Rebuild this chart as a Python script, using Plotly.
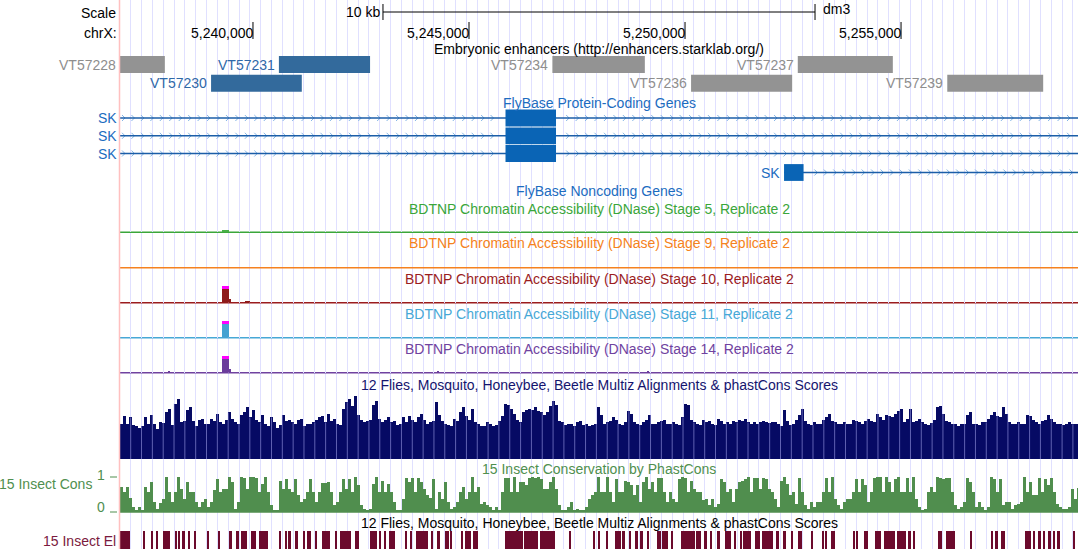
import plotly.graph_objects as go

# ------------------------------------------------------------------ data
chrom = "chrX"
assembly = "dm3"
win_start = 5236922
win_end = 5259096
scale_bar_kb = 10
ruler_ticks = [5240000, 5245000, 5250000, 5255000]
ruler_labels = ["5,240,000", "5,245,000", "5,250,000", "5,255,000"]

enh_track_title = "Embryonic enhancers (http://enhancers.starklab.org/)"
enh_names = ["VT57228", "VT57230", "VT57231", "VT57234", "VT57236", "VT57237", "VT57239"]
enh_starts = [5235900, 5239030, 5240600, 5246930, 5250140, 5252610, 5256070]
enh_ends = [5237960, 5241130, 5242710, 5249070, 5252480, 5254810, 5258290]
enh_rows = [1, 2, 1, 1, 2, 1, 2]
enh_class = ["other", "active", "active", "other", "other", "other", "other"]

gene_track_title = "FlyBase Protein-Coding Genes"
noncoding_title = "FlyBase Noncoding Genes"
gene_names = ["SK", "SK", "SK", "SK"]
gene_tx_starts = [5226000, 5226000, 5226000, 5252292]
gene_tx_ends = [5266000, 5266000, 5266000, 5266000]
gene_exon_starts = [5245845, 5245845, 5245845, 5252292]
gene_exon_ends = [5247014, 5247014, 5247014, 5252744]

dnase_stages = ["5", "9", "10", "11", "14"]
dnase_peak_starts = [[5239276], [], [5239276, 5239452, 5239815], [5239276],
                     [5238033, 5239276, 5239452, 5244260, 5249120]]
dnase_peak_ends = [[5239452], [], [5239452, 5239498, 5239931], [5239452],
                   [5238080, 5239452, 5239498, 5244310, 5249170]]
dnase_peak_values = [[0.17], [], [1.45, 0.2, 0.08], [1.45], [0.05, 1.45, 0.25, 0.05, 0.05]]
dnase_view_max = 1.0

multiz_title = "12 Flies, Mosquito, Honeybee, Beetle Multiz Alignments & phastCons Scores"
phast_title = "15 Insect Conservation by PhastCons"
cons_bin_start = 5236922
cons_bin_size = 69.44
multiz_scores = [
    56, 68, 55, 66, 54, 52, 50, 53, 66, 55, 70, 56, 47, 58, 57, 75, 80, 54, 88, 96,
    58, 60, 78, 82, 60, 53, 62, 64, 56, 55, 64, 60, 72, 58, 56, 62, 74, 64, 58, 56,
    70, 74, 83, 66, 78, 62, 58, 70, 56, 52, 66, 58, 50, 54, 70, 60, 62, 58, 55, 62,
    64, 53, 55, 56, 58, 62, 66, 68, 58, 72, 60, 64, 56, 54, 80, 90, 96, 84, 100, 70,
    62, 58, 60, 62, 85, 92, 64, 58, 62, 66, 58, 60, 54, 56, 66, 58, 68, 62, 58, 66,
    72, 62, 55, 58, 60, 90, 70,
    60, 56, 54, 52, 64, 60, 74, 82, 68, 62, 80, 58, 55, 53, 52, 58, 55, 52, 54, 60,
    68, 88, 85, 80, 72, 62, 58, 74, 77, 80, 78, 82, 76, 74, 70, 74, 84, 92, 86, 60,
    58, 54, 56, 55, 52, 58, 60, 54, 56, 52, 54, 56, 82, 70, 55, 58, 60, 66, 62, 56,
    54, 58, 76, 72, 58, 56, 54, 58, 62, 70, 56, 55, 58, 60, 62, 56, 55, 58, 56, 54,
    66, 88, 86, 62, 58, 56, 54, 62, 58, 60, 56, 54, 64, 60, 55, 58, 56, 60, 58, 62,
    60, 64, 58, 55, 58, 56,
    58, 60, 58, 57, 59, 58, 56, 53, 77, 60, 54, 56, 62, 70, 80, 60, 56, 54, 58, 56,
    55, 62, 66, 72, 60, 58, 56, 55, 58, 56, 55, 62, 60, 58, 56, 60, 64, 60, 58, 72,
    66, 62, 70, 68, 66, 72, 76, 80, 58, 64, 80, 58, 60, 64, 58, 56, 54, 57, 62, 82,
    84, 72, 60, 58, 56, 55, 53, 55, 56, 70, 74, 56, 55, 54, 58, 58, 64, 70, 74, 68,
    66, 82, 72, 58, 55, 56, 58, 55, 56, 70, 68, 62, 58, 56, 60, 62, 70, 64, 58, 56,
    55, 54, 56, 58, 55, 56, 55,
]
phast_scores = [
    71, 57, 71, 40, 14, 5, 14, 5, 71, 57, 86, 29, 10, 25, 38, 100, 57, 29, 57, 100,
    67, 38, 86, 57, 57, 29, 14, 29, 38, 14, 29, 62, 93, 57, 67, 67, 100, 86, 10, 29,
    100, 97, 67, 100, 100, 97, 57, 81, 100, 57, 20, 5, 5, 90, 67, 95, 67, 57, 93, 48,
    29, 38, 57, 93, 57, 29, 57, 84, 84, 86, 57, 19, 29, 57, 93, 67, 95, 57, 100, 76,
    19, 8, 5, 10, 81, 100, 57, 90, 57, 81, 57, 29, 5, 5, 38, 97, 86, 97, 57, 97,
    86, 67, 48, 40, 93, 10, 57,
    38, 86, 29, 10, 14, 30, 57, 71, 38, 57, 100, 57, 71, 24, 30, 20, 14, 5, 14, 5,
    57, 97, 97, 57, 100, 57, 86, 86, 76, 97, 100, 97, 100, 95, 67, 67, 86, 100, 67, 19,
    5, 5, 14, 29, 5, 10, 5, 5, 14, 38, 48, 57, 100, 57, 57, 100, 57, 29, 93, 57,
    57, 90, 86, 76, 48, 76, 29, 86, 100, 67, 86, 57, 97, 97, 57, 29, 57, 38, 29, 95,
    100, 97, 57, 90, 67, 57, 57, 33, 38, 19, 38, 14, 24, 95, 86, 57, 67, 29, 67, 86,
    90, 95, 100, 57, 97, 97,
    67, 97, 93, 67, 57, 38, 14, 90, 100, 81, 48, 57, 24, 97, 57, 19, 10, 29, 14, 29,
    29, 57, 97, 57, 100, 38, 19, 10, 29, 38, 38, 57, 93, 57, 95, 76, 29, 57, 97, 100,
    100, 57, 100, 86, 57, 95, 100, 57, 57, 97, 57, 100, 38, 14, 5, 10, 57, 71, 57, 100,
    97, 93, 97, 97, 57, 19, 10, 14, 29, 97, 86, 57, 14, 29, 14, 5, 14, 100, 95, 57,
    93, 19, 29, 29, 10, 19, 24, 29, 100, 57, 86, 48, 48, 97, 57, 93, 76, 97, 57, 24,
    14, 10, 10, 14, 67, 38, 70,
]
element_starts = [
    5236938, 5236991, 5237044, 5237107, 5237477, 5237646, 5237778, 5237924, 5238195, 5238281,
    5238380, 5238512, 5238635, 5238943, 5239190, 5239438, 5239623, 5239716, 5239947, 5240146,
    5240609, 5240734, 5240827, 5240966, 5241158, 5241244, 5241429, 5241598, 5241906, 5242021,
    5242355, 5242716, 5242933, 5243049, 5243142, 5243526, 5243635, 5243781, 5244128, 5244267,
    5244452, 5244554, 5244808, 5244901, 5245086, 5245827, 5246274, 5246637, 5247331, 5247871,
    5247987, 5248179, 5248373, 5248542, 5248720, 5248836, 5248952, 5249128, 5249359, 5249468,
    5249683, 5249901, 5250262, 5250457, 5250579, 5250748, 5250920, 5251151, 5251267, 5251343,
    5251614, 5251783, 5252114, 5252269, 5252461, 5252616, 5252924, 5253172, 5253248, 5253373,
    5253889, 5253966, 5254144, 5254406, 5254607, 5254915, 5255162, 5255278, 5255857, 5256049,
    5256591, 5257076, 5257183, 5257308, 5257864, 5258056, 5258172, 5258287, 5258403, 5258519,
    5258619, 5258982,
]
element_ends = [
    5236984, 5237031, 5237084, 5237146, 5237507, 5237679, 5237808, 5238086, 5238241, 5238318,
    5238419, 5238542, 5238665, 5238982, 5239244, 5239514, 5239669, 5239869, 5240070, 5240348,
    5240655, 5240781, 5240873, 5241049, 5241197, 5241336, 5241482, 5241783, 5241945, 5242276,
    5242447, 5242878, 5242970, 5243086, 5243281, 5243572, 5243681, 5244051, 5244174, 5244329,
    5244531, 5244607, 5244869, 5245054, 5245209, 5246250, 5246598, 5246984, 5247354, 5247910,
    5248033, 5248218, 5248512, 5248604, 5248758, 5248912, 5249028, 5249174, 5249438, 5249607,
    5249729, 5250225, 5250378, 5250503, 5250625, 5250804, 5251073, 5251188, 5251320, 5251535,
    5251737, 5252037, 5252169, 5252331, 5252508, 5252709, 5252947, 5253218, 5253295, 5253479,
    5253928, 5254012, 5254236, 5254544, 5254854, 5255123, 5255224, 5255301, 5255949, 5256243,
    5256644, 5257137, 5257246, 5257401, 5258003, 5258110, 5258234, 5258341, 5258465, 5258572,
    5258674, 5259036,
]

# ------------------------------------------------------------------ layout helpers
W, H = 1078, 549
LEFT = 120
FONT = "Liberation Sans, Arial, Helvetica, sans-serif"
FS = 14
bpp = (win_end - win_start) / (W - LEFT)


def gx(p):
    return win_start + (p - LEFT) * bpp


def pdom(top, bottom):
    return [1 - bottom / H, 1 - top / H]


def clip_s(v):
    return max(v, win_start)


def clip_e(v):
    return min(v, win_end)


fig = go.Figure()
shapes = []
ann = []


def text(t, x, y, color, anchor="center", xref="paper", xshift=0, size=FS):
    ann.append(dict(text=t, x=x, y=y, xref=xref, yref="y", showarrow=False,
                    xanchor=anchor, yanchor="middle", xshift=xshift, borderpad=0,
                    font=dict(family=FONT, size=size, color=color)))


def P(px):
    return px / W


# ------------------------------------------------------------------ ruler
mid = (win_start + win_end) / 2
sb0, sb1 = mid - scale_bar_kb * 500, mid + scale_bar_kb * 500
shapes.append(dict(type="line", xref="x", yref="y", x0=sb0, x1=sb1, y0=12, y1=12,
                   line=dict(color="black", width=1)))
for xv in (sb0, sb1):
    shapes.append(dict(type="line", xref="x", yref="y", x0=xv, x1=xv, y0=4, y1=20,
                       line=dict(color="black", width=1)))
text("Scale", P(117), 12.5, "black", "right")
text("%d kb" % scale_bar_kb, sb0, 12, "black", "right", xref="x", xshift=-2)
text(assembly, sb1, 8.5, "black", "left", xref="x", xshift=7)
text(chrom + ":", P(118), 32.5, "black", "right")
for tv, tl in zip(ruler_ticks, ruler_labels):
    shapes.append(dict(type="line", xref="x", yref="y", x0=tv, x1=tv, y0=22, y1=39,
                       line=dict(color="black", width=1)))
    text(tl, tv, 32.5, "black", "right", xref="x", xshift=1)

# ------------------------------------------------------------------ enhancers
text(enh_track_title, P((LEFT + W) / 2), 49, "black")
row_y = {1: 64.5, 2: 83.2}
enh_fill = {"other": "#939393", "active": "#336a9c"}
enh_lab = {"other": "#8e8e8e", "active": "#2f68a8"}
for n, s, e, r, c in zip(enh_names, enh_starts, enh_ends, enh_rows, enh_class):
    y = row_y[r]
    shapes.append(dict(type="rect", xref="x", yref="y", x0=clip_s(s), x1=clip_e(e),
                       y0=y - 8.5, y1=y + 8.5, fillcolor=enh_fill[c], line=dict(width=0),
                       layer="above"))
    text(n, clip_s(s), y, enh_lab[c], "right", xref="x", xshift=-3)

# ------------------------------------------------------------------ genes
GENE_BLUE = "#1c6cc0"
text(gene_track_title, P((LEFT + W) / 2), 102.5, GENE_BLUE)
gene_row_y = [118.0, 135.8, 153.5, 172.5]
line_x, line_y, chev_x, chev_y = [], [], [], []
CH = 9.45 * bpp
CW = 3.0 * bpp
for i, name in enumerate(gene_names):
    y = gene_row_y[i]
    s = clip_s(gene_tx_starts[i])
    e = clip_e(gene_tx_ends[i])
    es, ee = gene_exon_starts[i], gene_exon_ends[i]
    line_x += [s, e, None]
    line_y += [y, y, None]
    c = s + 5 * bpp
    while c < e:
        if not (es - CW <= c <= ee + 2 * CW):
            chev_x += [c - CW, c, c - CW, None]
            chev_y += [y - 3, y, y + 3, None]
        c += CH
    shapes.append(dict(type="rect", xref="x", yref="y", x0=es, x1=ee, y0=y - 8.4, y1=y + 8.4,
                       fillcolor="#0a64b5", line=dict(width=0), layer="above"))
    text(name, clip_s(min(gene_tx_starts[i], es)), y, GENE_BLUE, "right", xref="x",
         xshift=-2 if gene_tx_starts[i] < win_start else -3)

fig.add_trace(go.Scatter(x=chev_x, y=chev_y, mode="lines", xaxis="x", yaxis="y",
                         line=dict(color="#86b6e6", width=1), hoverinfo="skip"))
fig.add_trace(go.Scatter(x=line_x, y=line_y, mode="lines", xaxis="x", yaxis="y",
                         line=dict(color="#1b5ea8", width=1.6), hoverinfo="skip"))
text(noncoding_title, P((LEFT + W) / 2), 190.5, GENE_BLUE)

# ------------------------------------------------------------------ DNase tracks
dn_colors = ["#3aa63a", "#f58220", "#9b1c1e", "#47a8d6", "#7042a0"]
dn_fill = ["#48b048", "#f58220", "#8e1a1a", "#43a2d2", "#6b3c9c"]
dn_base = [232.3, 267.7, 302.7, 337.7, 372.7]
dn_title_y = [208.5, 243, 278.5, 313.5, 348.5]
TRACK_H = 16.7
layout_axes = {}
for k, stg in enumerate(dnase_stages):
    ax = "y%d" % (4 + k)
    layout_axes["yaxis%d" % (4 + k)] = dict(domain=pdom(dn_base[k] - TRACK_H, dn_base[k]),
                                            range=[0, dnase_view_max], visible=False,
                                            anchor="x", fixedrange=True)
    text("BDTNP Chromatin Accessibility (DNase) Stage %s, Replicate 2" % stg,
         P((LEFT + W) / 2), dn_title_y[k], dn_colors[k])
    fig.add_trace(go.Scatter(x=[win_start, win_end], y=[dn_base[k], dn_base[k]], mode="lines",
                             xaxis="x", yaxis="y", line=dict(color=dn_colors[k], width=1.6),
                             hoverinfo="skip"))
    st, en, va = dnase_peak_starts[k], dnase_peak_ends[k], dnase_peak_values[k]
    if st:
        xs = [(a + b) / 2 for a, b in zip(st, en)]
        ws = [b - a for a, b in zip(st, en)]
        hs = [min(v, dnase_view_max) for v in va]
        fig.add_trace(go.Bar(x=xs, y=hs, width=ws, xaxis="x", yaxis=ax,
                             marker=dict(color=dn_fill[k], line=dict(width=0)), hoverinfo="skip"))
        clipped = [i for i, v in enumerate(va) if v > dnase_view_max]
        if clipped:
            fig.add_trace(go.Bar(x=[xs[i] for i in clipped], y=[0.15 * dnase_view_max] * len(clipped),
                                 base=[0.85 * dnase_view_max] * len(clipped),
                                 width=[ws[i] for i in clipped], xaxis="x", yaxis=ax,
                                 marker=dict(color="#ff00ff", line=dict(width=0)), hoverinfo="skip"))

# ------------------------------------------------------------------ conservation
MZ_TOP, MZ_BOT = 396, 459
PH_TOP, PH_BOT = 477, 512
text(multiz_title, P((LEFT + W) / 2), 384.5, "#14146e")
cx = [cons_bin_start + (i + 0.5) * cons_bin_size for i in range(len(multiz_scores))]
fig.add_trace(go.Bar(x=cx, y=multiz_scores, width=cons_bin_size, xaxis="x", yaxis="y2",
                     marker=dict(color="rgb(6,10,100)", line=dict(width=0)), hoverinfo="skip"))
px_ = [cons_bin_start + (i + 0.5) * cons_bin_size for i in range(len(phast_scores))]
PH_BAR = "rgb(80,142,78)"
fig.add_trace(go.Bar(x=px_, y=phast_scores, width=cons_bin_size * 0.9, xaxis="x", yaxis="y3",
                     marker=dict(color=PH_BAR, line=dict(width=0)), hoverinfo="skip"))
fig.add_trace(go.Scatter(x=[win_start, win_end], y=[PH_BOT, PH_BOT], mode="lines",
                         xaxis="x", yaxis="y", line=dict(color=PH_BAR, width=1.3), hoverinfo="skip"))
PH_GREEN = "#4f8f4f"
text(phast_title, P((LEFT + W) / 2), 469, PH_GREEN)
text("15 Insect Cons", P(93), 483.5, PH_GREEN, "right")
text("1", P(106), 475, PH_GREEN, "right")
text("0", P(106), 507, PH_GREEN, "right")
for yy in (PH_TOP, PH_BOT):
    shapes.append(dict(type="line", xref="paper", yref="y", x0=P(110), x1=P(117), y0=yy, y1=yy,
                       line=dict(color=PH_GREEN, width=1)))
text(multiz_title, P((LEFT + W) / 2), 523, "black")

# elements
ex = [(a + b) / 2 for a, b in zip(element_starts, element_ends)]
ew = [b - a for a, b in zip(element_starts, element_ends)]
fig.add_trace(go.Bar(x=ex, y=[1] * len(ex), width=ew, xaxis="x", yaxis="y9",
                     marker=dict(color="rgb(108,10,44)", line=dict(width=0)), hoverinfo="skip"))
text("15 Insect El", P(117), 541, "#7b1a3e", "right")

# guideline stripes over the multiz wiggle
GRID0 = gx(130.7)
GRID_STEP = 10.83 * bpp
g = GRID0
while g < win_end:
    bi = int((g - cons_bin_start) // cons_bin_size)
    if 0 <= bi < len(multiz_scores):
        shapes.append(dict(type="line", xref="x", yref="y2", x0=g, x1=g, y0=0, y1=multiz_scores[bi],
                           line=dict(color="rgba(185,185,255,0.5)", width=1), layer="above"))
    g += GRID_STEP

# pink left border of data area
shapes.append(dict(type="line", xref="paper", yref="paper", x0=P(119.5), x1=P(119.5), y0=0, y1=1,
                   line=dict(color="#ffc0c0", width=1.5)))

fig.update_layout(
    width=W, height=H, margin=dict(l=0, r=0, t=0, b=0),
    paper_bgcolor="white", plot_bgcolor="rgba(0,0,0,0)",
    showlegend=False, barmode="overlay", bargap=0,
    xaxis=dict(domain=[LEFT / W, 1], range=[win_start, win_end], showgrid=True,
               gridcolor="#e0e0ff", gridwidth=1, tick0=GRID0, dtick=GRID_STEP,
               showticklabels=False, ticks="", zeroline=False, showline=False, fixedrange=True),
    yaxis=dict(domain=[0, 1], range=[H, 0], visible=False, fixedrange=True),
    yaxis2=dict(domain=pdom(MZ_TOP, MZ_BOT), range=[0, 100], visible=False, anchor="x", fixedrange=True),
    yaxis3=dict(domain=pdom(PH_TOP, PH_BOT), range=[0, 100], visible=False, anchor="x", fixedrange=True),
    yaxis9=dict(domain=pdom(531, 549), range=[0, 1], visible=False, anchor="x", fixedrange=True),
    shapes=shapes, annotations=ann,
)
fig.update_layout(**layout_axes)

fig.write_html("out.html", config={"displayModeBar": False},
               post_script="document.body.style.margin='0';")
